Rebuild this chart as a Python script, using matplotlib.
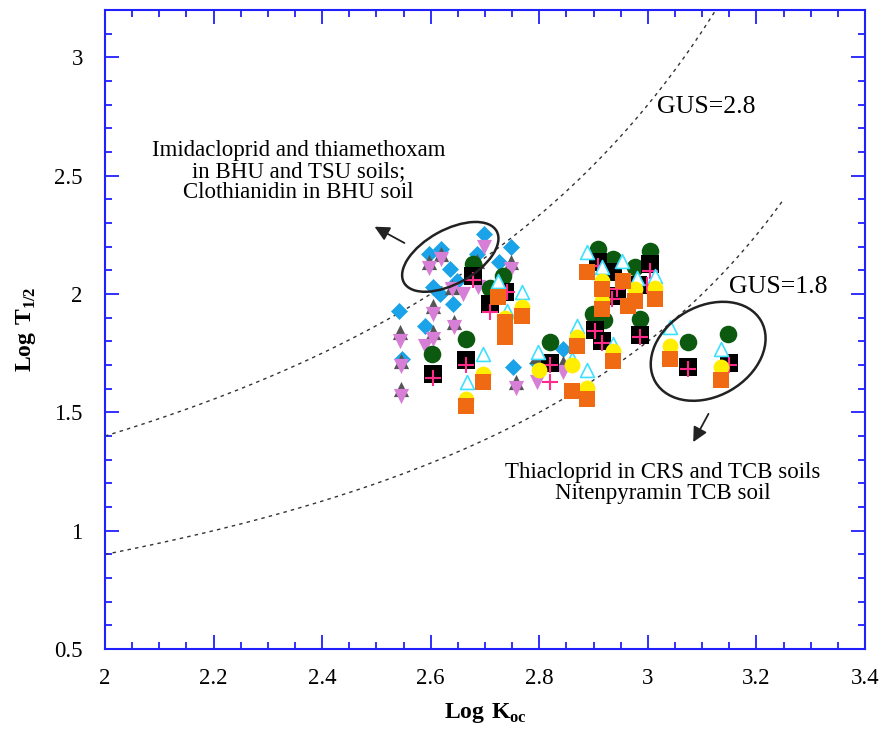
import numpy as np
import matplotlib
matplotlib.use('Agg')
import matplotlib.pyplot as plt
import matplotlib.transforms as mtransforms
from matplotlib.patches import Ellipse
from matplotlib.ticker import MultipleLocator

plt.rcParams['font.family'] = ['Liberation Serif', 'DejaVu Serif']
plt.rcParams['mathtext.fontset'] = 'custom'
plt.rcParams['mathtext.rm'] = 'Liberation Serif'
plt.rcParams['mathtext.bf'] = 'Liberation Serif:bold'

# GUS lines: log T1/2 = GUS / (4 - log Koc)
gus_values = [2.8, 1.8]
gus_xmax = [3.125, 3.25]

# data (log Koc, log T1/2)
cyan_diamond_x = [2.698, 2.619, 2.597, 2.748, 2.726, 2.635, 2.648, 2.604, 2.617, 2.542,
                  2.641, 2.589, 2.547, 2.752, 2.795, 2.844, 2.685]
cyan_diamond_y = [2.254, 2.19, 2.17, 2.20, 2.135, 2.105, 2.055, 2.03, 2.0, 1.928,
                  1.957, 1.865, 1.725, 1.69, 1.71, 1.767, 2.17]

gray_up_x = [2.597, 2.748, 2.685, 2.639, 2.604, 2.643, 2.543, 2.604, 2.545, 2.545,
             2.757, 2.844, 2.795, 2.619]
gray_up_y = [2.135, 2.135, 2.14, 2.03, 1.95, 1.88, 1.84, 1.84, 1.715, 1.597,
             1.63, 1.71, 1.74, 2.17]

violet_down_x = [2.698, 2.619, 2.597, 2.748, 2.687, 2.639, 2.604, 2.643, 2.543, 2.604,
                 2.589, 2.545, 2.545, 2.757, 2.844, 2.795, 2.66]
violet_down_y = [2.20, 2.15, 2.11, 2.105, 2.03, 2.02, 1.915, 1.86, 1.80, 1.81,
                 1.78, 1.695, 1.568, 1.605, 1.67, 1.627, 2.0]

green_circle_x = [2.678, 2.709, 2.733, 2.665, 2.602, 2.908, 2.936, 3.004, 2.976, 2.899,
                  2.92, 2.985, 2.82, 3.074, 3.148]
green_circle_y = [2.127, 2.025, 2.076, 1.81, 1.745, 2.19, 2.148, 2.182, 2.115, 1.915,
                  1.89, 1.894, 1.797, 1.797, 1.83]

black_square_x = [2.678, 2.737, 2.709, 2.665, 2.604, 2.908, 2.936, 3.004, 2.982, 2.943,
                  2.903, 2.916, 2.985, 2.82, 3.074, 3.149]
black_square_y = [2.076, 2.008, 1.957, 1.72, 1.66, 2.135, 2.093, 2.127, 2.04, 1.99,
                  1.85, 1.80, 1.826, 1.71, 1.69, 1.71]

pink_plus_x = [2.678, 2.709, 2.665, 2.604, 2.908, 2.943, 2.934, 3.004, 2.903, 2.916,
               2.985, 2.82, 2.82, 3.074, 3.149, 2.74, 2.998]
pink_plus_y = [2.06, 1.925, 1.70, 1.645, 2.12, 2.02, 1.98, 2.097, 1.845, 1.795,
               1.82, 1.70, 1.627, 1.685, 1.70, 2.01, 2.04]

open_tri_x = [2.724, 2.768, 2.74, 2.696, 2.667, 2.888, 2.916, 2.952, 2.98, 3.013,
              2.869, 2.936, 2.86, 2.888, 2.797, 3.041, 3.135]
open_tri_y = [2.055, 2.008, 1.93, 1.745, 1.627, 2.178, 2.115, 2.14, 2.068, 2.076,
              1.865, 1.79, 1.725, 1.68, 1.755, 1.86, 1.767]

yellow_circle_x = [2.768, 2.737, 2.696, 2.665, 2.916, 2.976, 2.916, 3.013, 2.869, 2.936,
                   2.888, 2.86, 2.80, 3.041, 3.135]
yellow_circle_y = [1.945, 1.90, 1.66, 1.555, 2.055, 2.02, 1.97, 2.025, 1.82, 1.758,
                   1.605, 1.70, 1.68, 1.78, 1.69]

orange_square_x = [2.724, 2.768, 2.737, 2.737, 2.696, 2.665, 2.888, 2.954, 2.916, 3.013,
                   2.976, 2.963, 2.916, 2.869, 2.936, 2.86, 2.888, 3.041, 3.135]
orange_square_y = [1.987, 1.907, 1.88, 1.82, 1.627, 1.525, 2.093, 2.055, 2.02, 1.98,
                   1.97, 1.95, 1.937, 1.78, 1.716, 1.59, 1.555, 1.725, 1.635]

fig = plt.figure(figsize=(8.81, 7.42), dpi=100)
ax = fig.add_axes([0.1192, 0.1253, 0.8627, 0.8612])

for g, xm in zip(gus_values, gus_xmax):
    xs = np.linspace(2.0, xm, 200)
    ax.plot(xs, g / (4 - xs), color='#333333', lw=1.0, linestyle=(0, (2.5, 3)))

ax.scatter(cyan_diamond_x, cyan_diamond_y, marker='D', s=75, color='#1aa3e8', lw=0, zorder=3)
ax.scatter(gray_up_x, gray_up_y, marker='^', s=120, color='#555555', lw=0, zorder=3)
ax.scatter(violet_down_x, violet_down_y, marker='v', s=120, color='#d77fd7', lw=0, zorder=3)
ax.scatter(green_circle_x, green_circle_y, marker='o', s=160, color='#0b5a10', lw=0, zorder=3)
ax.scatter(black_square_x, black_square_y, marker='s', s=160, color='black', lw=0, zorder=3)
ax.scatter(pink_plus_x, pink_plus_y, marker='+', s=120, color='#ff2a8a', lw=1.5, zorder=3)
ax.scatter(open_tri_x, open_tri_y, marker='^', s=100, facecolors='white', edgecolors='#3fe0ff',
           lw=1.2, zorder=3)
ax.scatter(yellow_circle_x, yellow_circle_y, marker='o', s=130, color='#ffee00', lw=0, zorder=3)
ax.scatter(orange_square_x, orange_square_y, marker='s', s=130, color='#f06a14', lw=0, zorder=3)

# ellipses drawn in pixel units around data centres
for cx, cy, w, h, a in [(2.636, 2.157, 106, 54, 29), (3.111, 1.758, 122, 90, 30)]:
    ax.add_patch(Ellipse((0, 0), w, h, angle=a, fill=False, ec='#222222', lw=1.8,
                         transform=mtransforms.ScaledTranslation(cx, cy, ax.transData), zorder=4))

ax.annotate('', xy=(2.492, 2.29), xytext=(2.556, 2.21),
            arrowprops=dict(arrowstyle='-|>', color='#222222', lw=1.3, mutation_scale=22))
ax.annotate('', xy=(3.081, 1.364), xytext=(3.114, 1.504),
            arrowprops=dict(arrowstyle='-|>', color='#222222', lw=1.3, mutation_scale=22))

ax.text(2.356, 2.65, 'Imidacloprid and thiamethoxam\nin BHU and TSU soils;\nClothianidin in BHU soil',
        ha='center', va='top', fontsize=16.5, linespacing=1.0)
ax.text(3.028, 1.29, 'Thiacloprid in CRS and TCB soils\nNitenpyramin TCB soil',
        ha='center', va='top', fontsize=16.5, linespacing=1.0)
ax.text(3.017, 2.79, 'GUS=2.8', ha='left', va='center', fontsize=18.5)
ax.text(3.15, 2.03, 'GUS=1.8', ha='left', va='center', fontsize=18.5)

ax.set_xlim(2, 3.4)
ax.set_ylim(0.5, 3.2)
ax.xaxis.set_major_locator(MultipleLocator(0.2))
ax.xaxis.set_minor_locator(MultipleLocator(0.05))
ax.yaxis.set_major_locator(MultipleLocator(0.5))
ax.yaxis.set_minor_locator(MultipleLocator(0.1))
ax.xaxis.set_major_formatter(plt.FuncFormatter(lambda v, p: f'{v:g}'))
ax.yaxis.set_major_formatter(plt.FuncFormatter(lambda v, p: f'{v:g}'))

blue = '#2020ff'
for s in ax.spines.values():
    s.set_color(blue)
    s.set_linewidth(1.5)
ax.tick_params(which='both', direction='in', color=blue, top=True, right=True, labelsize=16.5)
ax.tick_params(which='major', length=10, width=1.3)
ax.tick_params(which='minor', length=5, width=1.3)
ax.tick_params(axis='x', which='major', pad=14)
ax.tick_params(axis='y', which='major', pad=16)

ax.set_xlabel(r'$\mathbf{Log\ K}_{\mathbf{oc}}$', fontsize=17, labelpad=8)
ax.set_ylabel(r'$\mathbf{Log\ T}_{\mathbf{1/2}}$', fontsize=17, labelpad=12)

fig.savefig('out.png', dpi=100)
